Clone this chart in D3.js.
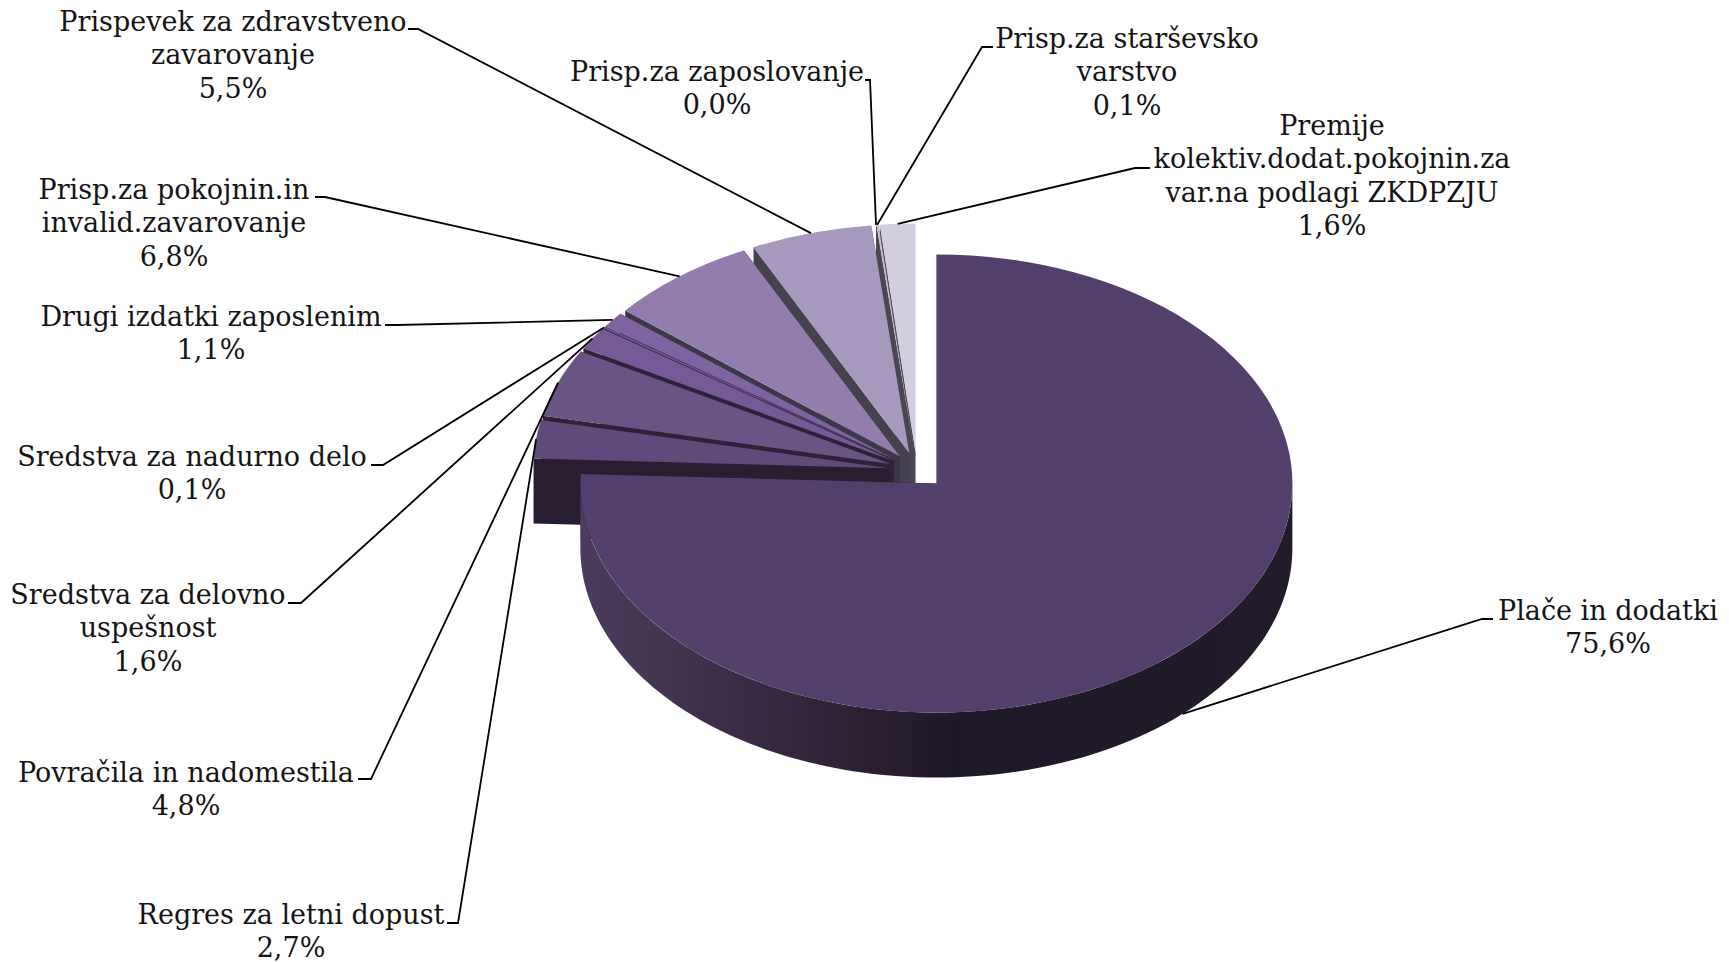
<!DOCTYPE html>
<html>
<head>
<meta charset="utf-8">
<style>
	html, body { margin: 0; padding: 0; background: #fff; }
	svg { display: block; }
	text { font-family: "DejaVu Serif", serif; fill: #141414; }
</style>
<script src="https://cdn.jsdelivr.net/npm/d3@7"></script>
</head>
<body>
<div id="viz"></div>
<script>
// slices, clockwise from twelve o'clock
var categories = [
	['Plače in dodatki'],
	['Regres za letni dopust'],
	['Povračila in nadomestila'],
	['Sredstva za delovno', 'uspešnost'],
	['Sredstva za nadurno delo'],
	['Drugi izdatki zaposlenim'],
	['Prisp.za pokojnin.in', 'invalid.zavarovanje'],
	['Prispevek za zdravstveno', 'zavarovanje'],
	['Prisp.za zaposlovanje'],
	['Prisp.za starševsko', 'varstvo'],
	['Premije', 'kolektiv.dodat.pokojnin.za', 'var.na podlagi ZKDPZJU']
];
var values = [75.6, 2.7, 4.8, 1.6, 0.1, 1.1, 6.8, 5.5, 0.0, 0.1, 1.6];
var topColors = ['#533f6c', '#5f4a7b', '#6a5385', '#755a96', '#745a95', '#7f62a0', '#927dae', '#a798bd', '#b9afca', '#c8bfd6', '#d3cde0'];
var wallColors = ['#211a29', '#291e31', '#2e2238', '#2e2238', '#3a2e4a', '#3a3248', '#3c3846', '#45414f', '#4a4653', '#4c4855', '#4f4b58'];

// label layout: centre x, first baseline, elbow start x, elbow end x, elbow y
var labelLayout = [
	{x: 1608, y: 620, e1: 1493, e2: 1482, ey: 619},
	{x: 291, y: 924, e1: 447, e2: 458, ey: 923},
	{x: 186, y: 782, e1: 358, e2: 371, ey: 779},
	{x: 148, y: 604, e1: 288, e2: 301, ey: 603},
	{x: 192, y: 466, e1: 371, e2: 383, ey: 465},
	{x: 211, y: 326, e1: 385, e2: 397, ey: 325},
	{x: 174, y: 199, e1: 315, e2: 325, ey: 197},
	{x: 233, y: 31, e1: 408, e2: 418, ey: 29},
	{x: 717, y: 81, e1: 865, e2: 870, ey: 80},
	{x: 1127, y: 48, e1: 993, e2: 982, ey: 47},
	{x: 1332, y: 135, e1: 1150, e2: 1135, ey: 168}
];

var w = 1729,
	h = 962,
	centerX = 917,
	centerY = 470.5,
	rx = 356,
	ry = 229,
	depth = 65,
	explode = 28,
	lineHeight = 33.3;

var svg = d3.select('#viz').append('svg')
	.attr('width', w)
	.attr('height', h);

var gradient = svg.append('defs').append('linearGradient')
	.attr('id', 'rimShade')
	.attr('gradientUnits', 'userSpaceOnUse')
	.attr('x1', centerX - rx + 19).attr('x2', centerX + rx + 19)
	.attr('y1', 0).attr('y2', 0);
[[0, '#4b3c60'], [0.12, '#433450'], [0.25, '#382a44'], [0.37, '#2e2236'], [0.52, '#1f1828'], [1, '#221b2a']].forEach(function (s) {
	gradient.append('stop').attr('offset', s[0]).attr('stop-color', s[1]);
});

var pie = d3.pie().sort(null).value(function (d) { return d; });
var slices = pie(values);
var unitArc = d3.arc().innerRadius(0).outerRadius(1);
var outline = d3.line();

slices.forEach(function (s) {
	var mid = (s.startAngle + s.endAngle) / 2;
	s.mid = mid;
	s.cx = centerX + explode * Math.sin(mid);
	s.cy = centerY - explode * Math.cos(mid) * ry / rx;
});

function rimPoint(s, a, drop) {
	return [s.cx + rx * Math.sin(a), s.cy - ry * Math.cos(a) + (drop || 0)];
}

// back slices first, the big front slice goes last
var pieGroup = svg.append('g').attr('class', 'pie');
slices.slice().reverse().forEach(function (s) {
	var g = pieGroup.append('g').attr('class', 'slice');

	[s.startAngle, s.endAngle].forEach(function (a) {
		var edge = rimPoint(s, a);
		g.append('path')
			.attr('fill', wallColors[s.index])
			.attr('d', outline([[s.cx, s.cy], edge, [edge[0], edge[1] + depth], [s.cx, s.cy + depth]]) + 'Z');
	});

	// outer rim only shows on the part that faces the viewer
	var from = Math.max(s.startAngle, Math.PI / 2),
		to = Math.min(s.endAngle, 3 * Math.PI / 2);
	if (to > from) {
		var steps = d3.range(0, 121).map(function (i) { return from + (to - from) * i / 120; });
		var upper = steps.map(function (a) { return rimPoint(s, a); });
		var lower = steps.slice().reverse().map(function (a) { return rimPoint(s, a, depth); });
		g.append('path')
			.attr('fill', 'url(#rimShade)')
			.attr('d', outline(upper.concat(lower)) + 'Z');
	}

	g.append('path')
		.attr('transform', 'translate(' + s.cx + ',' + s.cy + ') scale(' + rx + ',' + ry + ')')
		.attr('fill', topColors[s.index])
		.attr('d', unitArc(s));
});

// leader lines
svg.append('g').attr('class', 'leaders').selectAll('path')
	.data(slices)
	.enter().append('path')
	.attr('fill', 'none')
	.attr('stroke', '#000')
	.attr('stroke-width', 1.8)
	.attr('d', function (s) {
		var l = labelLayout[s.index];
		var front = Math.cos(s.mid) < 0;
		return outline([[l.e1, l.ey], [l.e2, l.ey], rimPoint(s, s.mid, front ? depth : 0)]);
	});

// labels
var percent = function (v) { return v.toFixed(1).replace('.', ',') + '%'; };
var labels = svg.append('g').attr('class', 'labels').selectAll('text')
	.data(slices)
	.enter().append('text')
	.attr('font-size', 27)
	.attr('text-anchor', 'middle')
	.attr('x', function (s) { return labelLayout[s.index].x; })
	.attr('y', function (s) { return labelLayout[s.index].y; });

labels.selectAll('tspan')
	.data(function (s) {
		return categories[s.index].concat(percent(values[s.index])).map(function (t) {
			return {text: t, x: labelLayout[s.index].x};
		});
	})
	.enter().append('tspan')
	.attr('x', function (d) { return d.x; })
	.attr('dy', function (d, i) { return i ? lineHeight : 0; })
	.text(function (d) { return d.text; });
</script>
</body>
</html>
